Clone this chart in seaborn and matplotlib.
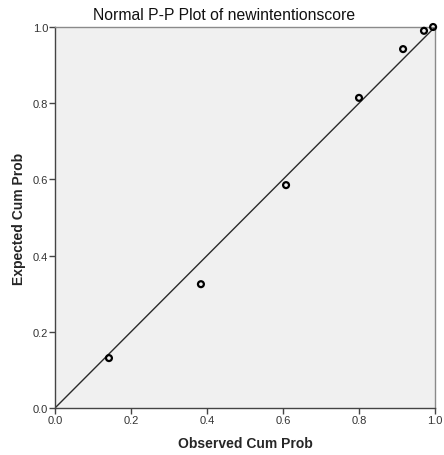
import matplotlib
matplotlib.use("Agg")
import matplotlib.pyplot as plt
import seaborn as sns
import pandas as pd

observed = [0.142, 0.384, 0.608, 0.800, 0.916, 0.971, 0.995]
expected = [0.131, 0.325, 0.585, 0.814, 0.942, 0.990, 1.000]
ticks = [0.0, 0.2, 0.4, 0.6, 0.8, 1.0]
tick_labels = ["0.0", "0.2", "0.4", "0.6", "0.8", "1.0"]

sns.set_style("white")
plt.rcParams['font.family'] = ['Liberation Sans', 'DejaVu Sans']

df = pd.DataFrame({"Observed Cum Prob": observed, "Expected Cum Prob": expected})

fig = plt.figure(figsize=(4.44, 4.56), dpi=100)
ax = fig.add_axes([55/444, 47/456, 380/444, 381/456])
ax.set_facecolor("#F0F0F0")

ax.plot([0, 1], [0, 1], color="#2a2a2a", lw=1.0, zorder=2)
sns.scatterplot(data=df, x="Observed Cum Prob", y="Expected Cum Prob", ax=ax,
                marker="o", s=18, facecolor="none", edgecolor="black",
                linewidth=1.6, zorder=3, clip_on=False)

ax.set_xlim(0, 1)
ax.set_ylim(0, 1)
ax.set_xticks(ticks)
ax.set_xticklabels(tick_labels)
ax.set_yticks(ticks)
ax.set_yticklabels(tick_labels)
ax.tick_params(axis="both", direction="out", length=4, width=1, color="#444444",
               labelsize=8, labelcolor="#333333", pad=1, bottom=True, left=True)
for s in ax.spines.values():
    s.set_color("#8a8a8a")
    s.set_linewidth(1)
ax.spines["left"].set_color("#444444")
ax.spines["bottom"].set_color("#444444")

ax.set_xlabel("Observed Cum Prob", fontsize=10, fontweight="bold", labelpad=8)
ax.set_ylabel("Expected Cum Prob", fontsize=10, fontweight="bold", labelpad=5)
fig.text(224/444, 1 - 15/456, "Normal P-P Plot of newintentionscore",
         fontsize=11.3, ha="center", va="center", color="#111111")

fig.savefig("out.png", dpi=100)
